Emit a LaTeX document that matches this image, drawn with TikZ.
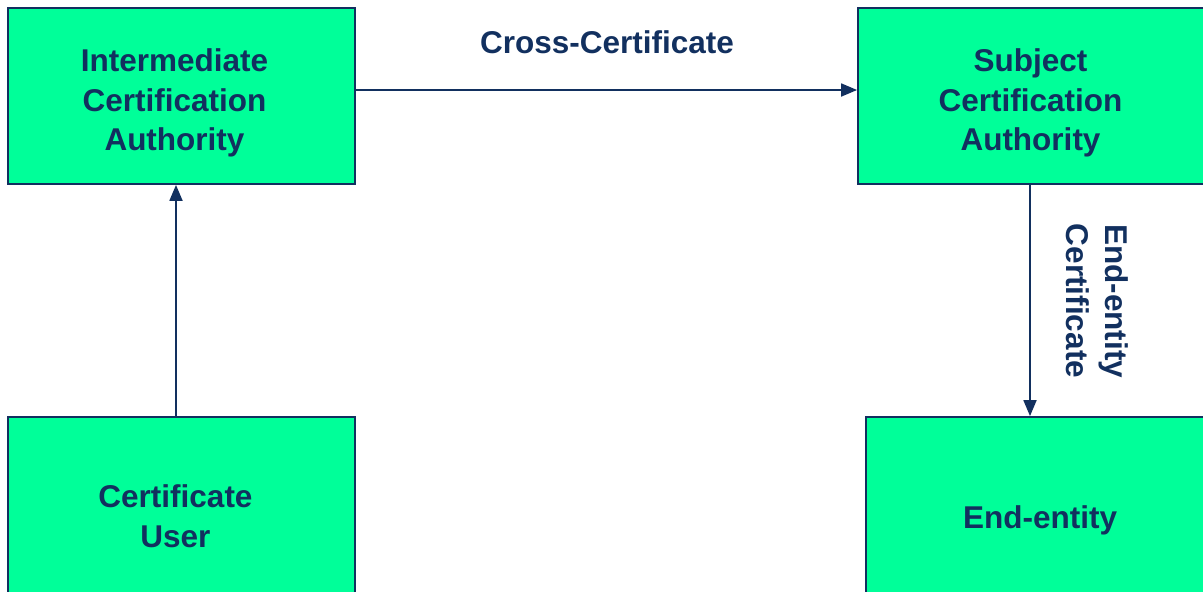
\documentclass[tikz,border=0pt]{standalone}
\usepackage{fontspec}
\setmainfont{Liberation Sans}
\usetikzlibrary{arrows.meta}
\definecolor{boxfill}{HTML}{00FF99}
\definecolor{navy}{HTML}{12305F}
\tikzset{
  cabox/.style={draw=navy, line width=1.8pt, fill=boxfill, rectangle, inner sep=0pt},
  lbl/.style={text=navy, align=center, inner sep=0pt, font=\fontsize{31.5}{39.5}\selectfont\bfseries},
  arr/.style={draw=navy, line width=1.8pt, -{Triangle[length=16pt,width=13pt]}}
}
\begin{document}
\begin{tikzpicture}[x=1pt,y=1pt]
\useasboundingbox (0,0) rectangle (1203,-592);
\clip (0,0) rectangle (1203,-592);
\node[cabox, minimum width=347, minimum height=176] (ICA) at (181.5,-96) {};
\node[cabox, minimum width=347, minimum height=176] (SCA) at (1031.5,-96) {};
\node[cabox, minimum width=347, minimum height=198] (CU) at (181.5,-516) {};
\node[cabox, minimum width=348, minimum height=200] (EE) at (1040,-517) {};
\node[lbl] (ICAt) at ([shift={(-7,-7)}]ICA.center) {Intermediate\\Certification\\Authority};
\node[lbl] (SCAt) at ([shift={(-1,-7)}]SCA.center) {Subject\\Certification\\Authority};
\node[lbl] (CUt) at ([shift={(-6,0)}]CU.center) {Certificate\\User};
\node[lbl] (EEt) at ([shift={(0,-3)}]EE.center) {End-entity};
\draw[arr] ([yshift=6]ICA.east) -- ([yshift=6]SCA.west);
\draw[arr] ([xshift=-5.5]CU.north) -- ([xshift=-5.5]ICA.south);
\draw[arr] ([xshift=-1.5]SCA.south) -- ([xshift=-1.5]SCA.south |- EE.north);
\node[lbl] (cc) at (607,-42) {Cross-Certificate};
\node[lbl, rotate=-90] (eec) at (1097,-301) {End-entity\\Certificate};
\end{tikzpicture}
\end{document}
